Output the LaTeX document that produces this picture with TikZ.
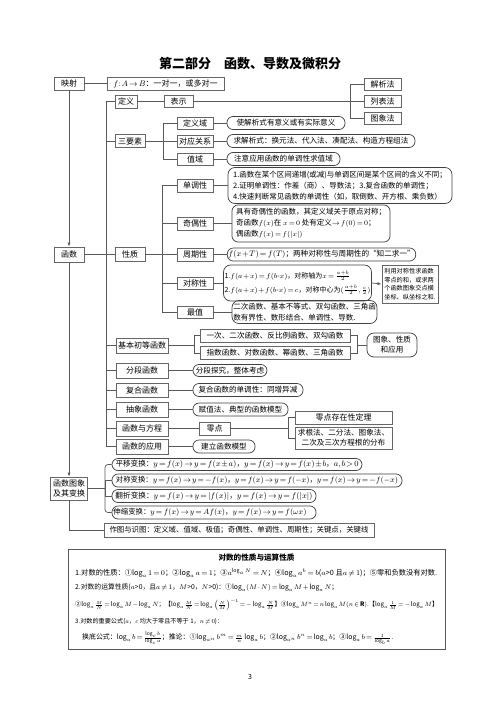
\documentclass[tikz,border=0pt]{standalone}
\usepackage{fontspec}
\setmainfont{Noto Sans CJK SC}
\usetikzlibrary{arrows.meta}
\newcommand{\fitw}[2]{\resizebox{#1}{!}{#2}}
\tikzset{
  base/.style={text=black, inner sep=1pt, font=\fontsize{8}{10}\selectfont},
  lbox/.style={base, draw=black!60, line width=0.7pt, minimum height=13pt},
  rbox/.style={base, font=\fontsize{7.6}{10}\selectfont, draw=black!75, line width=0.7pt, rounded corners=6pt, minimum height=13pt},
  mbox/.style={rbox, rounded corners=7pt, align=left},
  ln/.style={draw=black!65, line width=0.7pt},
  arr/.style={ln, -{Latex[length=4pt,width=3pt]}},
  txt/.style={text=black, inner sep=0pt, font=\fontsize{7}{9}\selectfont, anchor=west},
}
\begin{document}
\begin{tikzpicture}[x=1pt,y=-1pt]
\thickmuskip=2.5mu plus 1mu \medmuskip=1.5mu plus 1mu \thinmuskip=2mu
\useasboundingbox (0,0) rectangle (500,707);
\fill[white] (0,0) rectangle (500,707);

% title
\node[text=black, inner sep=0pt, font=\fontsize{13}{15}\selectfont\bfseries] (title) at (250,64) {第二部分　函数、导数及微积分};

% mapping row
\node[lbox, minimum width=30pt] (ys) at (69,83.5) {映射};
\node[lbox, minimum width=117pt] (fab) at (165.5,83.5) {$f\colon A\to B$：一对一，或多对一};
\draw[ln] (ys.east) -- (fab.west);

% definition
\node[lbox, minimum width=22pt] (dy) at (126,101.5) {定义};
\node[lbox, minimum width=29pt, minimum height=12pt] (bs) at (178.5,101.5) {表示};
\node[lbox, minimum width=37pt, minimum height=12pt] (jx) at (382.5,84.5) {解析法};
\node[lbox, minimum width=37pt, minimum height=12pt] (lb) at (382.5,101.5) {列表法};
\node[lbox, minimum width=37pt, minimum height=12pt] (txf) at (382.5,118.5) {图象法};
\coordinate (bk0) at (350,101.5);
\draw[ln] (dy.east) -- (bs.west);
\draw[ln] (bs.east) -- (lb.west);
\draw[ln] (jx.west) -| (bk0);
\draw[ln] (txf.west) -| (bk0);

% three elements
\node[lbox, minimum width=30pt] (sys) at (130,141) {三要素};
\node[lbox, minimum width=36pt, minimum height=12pt] (dyy) at (195,123) {定义域};
\node[lbox, minimum width=36pt, minimum height=12pt] (dygx) at (195,141) {对应关系};
\node[lbox, minimum width=36pt, minimum height=12pt] (zy) at (195,159) {值域};
\node[rbox, minimum width=118pt] (c1) at (286,123) {使解析式有意义或有实际意义};
\node[rbox, minimum width=188pt] (c2) at (321,141) {求解析式：换元法、代入法、凑配法、构造方程组法};
\node[rbox, minimum width=113pt] (c3) at (283.5,159) {注意应用函数的单调性求值域};
\coordinate (bk3) at (163,141);
\draw[ln] (sys.east) -- (dygx.west);
\draw[ln] (dyy.west) -| (bk3);
\draw[ln] (zy.west) -| (bk3);
\draw[ln] (dyy.east) -- (c1.west);
\draw[ln] (dygx.east) -- (c2.west);
\draw[ln] (zy.east) -- (c3.west);

% properties
\node[lbox, minimum width=30pt, minimum height=15pt] (hs) at (69,254.5) {函数};
\node[lbox, minimum width=30pt, minimum height=14pt] (xz) at (130,254.5) {性质};
\node[lbox, minimum width=36pt] (ddx) at (195,185.5) {单调性};
\node[lbox, minimum width=36pt] (jox) at (195,223.5) {奇偶性};
\node[lbox, minimum width=36pt] (zqx) at (195,254.5) {周期性};
\node[lbox, minimum width=36pt, minimum height=12pt] (dcx) at (195,283) {对称性};
\node[lbox, minimum width=36pt, minimum height=12pt] (zz) at (195,312) {最值};
\coordinate (bk4) at (162,254.5);
\draw[ln] (hs.east) -- (xz.west);
\draw[ln] (xz.east) -- (zqx.west);
\draw[ln] (ddx.west) -| (bk4);
\draw[ln] (jox.west) -| (bk4);
\draw[ln] (dcx.west) -| (bk4);
\draw[ln] (zz.west) -| (bk4);

\node[mbox, font=\fontsize{7.5}{11}\selectfont, minimum width=224pt, minimum height=36pt] (ddc) at (340,185.5)
 {1.函数在某个区间递增(或减)与单调区间是某个区间的含义不同；\\2.证明单调性：作差（商）、导数法；3.复合函数的单调性；\\4.快速判断常见函数的单调性（如，取倒数、开方根、乘负数）};
\node[mbox, font=\fontsize{7.5}{11}\selectfont, minimum width=158pt, minimum height=37pt, rounded corners=6pt] (joc) at (311,223.5)
 {具有奇偶性的函数，其定义域关于原点对称；\\奇函数$f(x)$在 $x=0$ 处有定义$\to f(0)=0$；\\偶函数$f(x)=f(|x|)$};
\node[rbox, minimum width=187pt] (zqc) at (321.5,254.5) {$f(x+T)=f(T)$；两种对称性与周期性的“知二求一”};
\node[mbox, font=\fontsize{7}{14}\selectfont, minimum width=139pt, minimum height=36pt] (dcc) at (297.5,283)
 {1.$f(a+x)=f(b\mbox{-}x)$，对称轴为$x=\frac{a+b}{2}$\\2.$f(a+x)+f(b\mbox{-}x)=c$，对称中心为$(\frac{a+b}{2},\frac{c}{2})$};
\node[base, draw=black!60, line width=0.9pt, align=left, font=\fontsize{6.2}{8.7}\selectfont, minimum width=56pt, minimum height=38pt] (side) at (410,284)
 {利用对称性求函数\\零点的和，或求两\\个函数图象交点横\\坐标、纵坐标之和.};
\node[mbox, font=\fontsize{7.5}{10.5}\selectfont, minimum width=145pt, minimum height=23pt] (zzc) at (304.5,312)
 {二次函数、基本不等式、双勾函数、三角函\\数有界性、数形结合、单调性、导数.};
\draw[ln] (ddx.east) -- (ddc.west);
\draw[ln] (jox.east) -- (joc.west);
\draw[ln] (zqx.east) -- (zqc.west);
\draw[ln] (dcx.east) -- (dcc.west);
\draw[ln] (zz.east) -- (zzc.west);
\draw[arr] (dcc.east) -- (side.west);

% basic elementary functions
\node[lbox, minimum width=52pt, minimum height=15pt] (jbhs) at (142,345.5) {基本初等函数};
\node[lbox, minimum width=150pt, font=\fontsize{7.6}{10}\selectfont] (b1) at (275,335.5) {一次、二次函数、反比例函数、双勾函数};
\node[lbox, minimum width=150pt, font=\fontsize{7.6}{10}\selectfont] (b2) at (275,353) {指数函数、对数函数、幂函数、三角函数};
\node[mbox, align=center, font=\fontsize{7.6}{10}\selectfont, minimum width=50pt, minimum height=24pt, rounded corners=7pt] (txzy) at (392,345) {图象、性质\\和应用};
\coordinate (bk1) at (194,345.5);
\coordinate (bk2) at (357,345);
\draw[ln] (jbhs.east) -- (bk1);
\draw[ln] (b1.west) -| (bk1);
\draw[ln] (b2.west) -| (bk1);
\draw[ln] (b1.east) -| (bk2);
\draw[ln] (b2.east) -| (bk2);
\draw[ln] (bk2) -- (txzy.west);

% other function types
\node[lbox, minimum width=52pt, minimum height=15pt] (fdhs) at (142,370.5) {分段函数};
\node[rbox, minimum width=74pt, minimum height=12pt] (fdc) at (230,370.5) {分段探究，整体考虑};
\node[lbox, minimum width=52pt, minimum height=14pt] (fhhs) at (142,390) {复合函数};
\node[rbox, minimum width=110pt] (fhc) at (248,390) {复合函数的单调性：同增异减};
\node[lbox, minimum width=52pt, minimum height=15pt] (cxhs) at (142,409.5) {抽象函数};
\node[rbox, minimum width=95pt] (cxc) at (240.5,409.5) {赋值法、典型的函数模型};
\node[lbox, minimum width=52pt, minimum height=15pt] (hsfc) at (142,428.5) {函数与方程};
\node[lbox, minimum width=31pt] (ld) at (214.5,428.5) {零点};
\node[lbox, minimum width=97pt] (ldcz) at (343.5,417.5) {零点存在性定理};
\node[lbox, align=center, font=\fontsize{7.6}{10}\selectfont, minimum width=97pt, minimum height=22pt] (qgf) at (343.5,438) {求根法、二分法、图象法、\\二次及三次方程根的分布};
\node[lbox, minimum width=52pt, minimum height=15pt] (hsyy) at (142,446.5) {函数的应用};
\node[rbox, minimum width=62pt] (hsyyc) at (224,446.5) {建立函数模型};
\coordinate (bk5) at (288,428.5);
\draw[ln] (fdhs.east) -- (fdc.west);
\draw[ln] (fhhs.east) -- (fhc.west);
\draw[ln] (cxhs.east) -- (cxc.west);
\draw[ln] (hsfc.east) -- (ld.west);
\draw[ln] (ld.east) -- (bk5);
\draw[ln] (ldcz.west) -| (bk5);
\draw[ln] (qgf.west) -| (bk5);
\draw[ln] (hsyy.east) -- (hsyyc.west);

% trunk
\coordinate (tk) at (106,0);
\draw[ln] (dy.west) -| (tk |- hsyy.west) -- (hsyy.west);
\draw[ln] (tk |- sys.west) -- (sys.west);
\draw[ln] (tk |- jbhs.west) -- (jbhs.west);
\draw[ln] (tk |- fdhs.west) -- (fdhs.west);
\draw[ln] (tk |- fhhs.west) -- (fhhs.west);
\draw[ln] (tk |- cxhs.west) -- (cxhs.west);
\draw[ln] (tk |- hsfc.west) -- (hsfc.west);

% graphs and transforms
\node[lbox, align=center, minimum width=37pt, minimum height=23pt] (txbh) at (69,488.5) {函数图象\\及其变换};
\node[rbox, minimum width=250pt, minimum height=12pt] (py) at (237,464.5) {\fitw{243pt}{平移变换：$y=f(x)\to y=f(x\pm a)$，$y=f(x)\to y=f(x)\pm b$，$a,b>0$}};
\node[rbox, minimum width=290pt] (dcb) at (257,480.5) {\fitw{282pt}{对称变换：$y=f(x)\to y=-f(x)$，$y=f(x)\to y=f(-x)$，$y=f(x)\to y=-f(-x)$}};
\node[rbox, minimum width=204pt] (fz) at (214,496) {\fitw{197pt}{翻折变换：$y=f(x)\to y=|f(x)|$，$y=f(x)\to y=f(|x|)$}};
\node[rbox, minimum width=204pt] (ss) at (214,512.5) {\hspace*{-4pt}\fitw{193pt}{伸缩变换：$y=f(x)\to y=Af(x)$，$y=f(x)\to y=f(\omega x)$}\hspace*{4pt}};
\node[lbox, minimum width=270pt, minimum height=14pt, font=\fontsize{7.4}{10}\selectfont] (zt) at (239,530) {作图与识图：定义域、值域、极值；奇偶性、单调性、周期性；关键点，关键线};
\coordinate (bk6) at (105,488.5);
\draw[ln] (txbh.east) -- (bk6);
\draw[ln, rounded corners=3pt] (py.west) -| (bk6);
\draw[ln, rounded corners=3pt] (ss.west) -| (bk6);
\draw[ln] (dcb.west) -| (bk6);
\draw[ln] (fz.west) -| (bk6);

% vertical arrows on the left
\draw[arr] (ys.south) -- (hs.north);
\draw[arr] (hs.south) -- (txbh.north);
\draw[ln] (txbh.south) |- (zt.west);

% logarithm box
\draw[draw=black!65, line width=0.9pt] (68,549) rectangle (445,649);
\node[text=black, inner sep=0pt, font=\fontsize{7.6}{9}\selectfont\bfseries] (dst) at (256.5,558) {对数的性质与运算性质};
\node[txt] (l1) at (75,573) {\fitw{362pt}{1.对数的性质：①$\log_a 1=0$；②$\log_a a=1$；③$a^{\log_a N}=N$；④$\log_a a^b=b$($a$>0 且$a\neq 1$)；⑤零和负数没有对数.}};
\node[txt] (l2) at (75,588) {\fitw{263pt}{2.对数的运算性质($a$>0，且$a\neq 1$，$M$>0，$N$>0)：①$\log_a(M\cdot N)=\log_a M+\log_a N$；}};
\node[txt] (l3) at (75,605) {\fitw{363pt}{②$\log_a\frac{M}{N}=\log_a M-\log_a N$；【$\log_a\frac{M}{N}=\log_a\left(\frac{N}{M}\right)^{-1}=-\log_a\frac{N}{M}$】③$\log_a M^n=n\log_a M(n\in\mathbf{R})$.【$\log_a\frac{1}{M}=-\log_a M$】}};
\node[txt] (l4) at (75,621.5) {\fitw{148pt}{3.对数的重要公式($a$，$c$ 均大于零且不等于 1，$n\neq 0$)：}};
\node[txt] (l5) at (82,638) {\fitw{311pt}{换底公式：$\log_a b=\frac{\log_c b}{\log_c a}$；推论：①$\log_{a^n}b^m=\frac{m}{n}\log_a b$；②$\log_{a^n}b^n=\log_a b$；③$\log_a b=\frac{1}{\log_b a}$.}};

\node[text=black, inner sep=0pt, font=\fontsize{7}{8}\selectfont] (pg) at (250,677) {3};
\end{tikzpicture}
\end{document}
